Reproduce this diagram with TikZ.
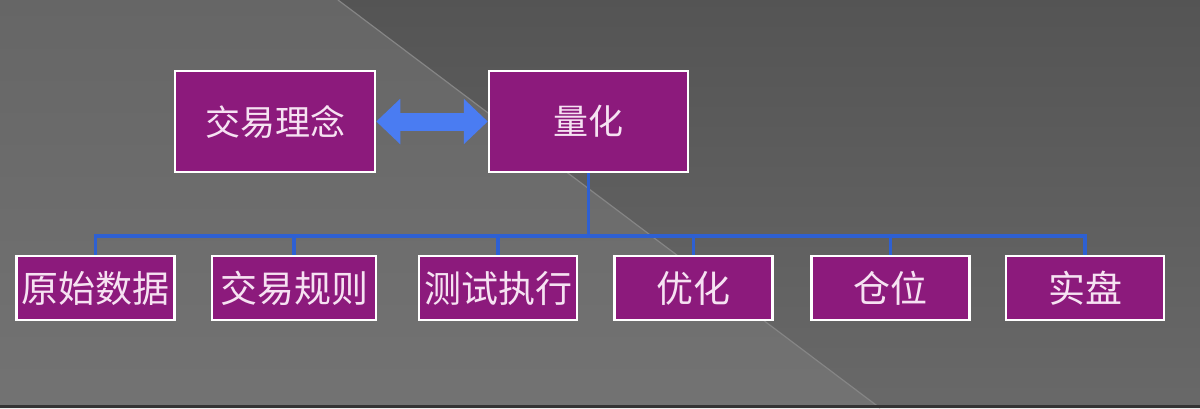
\documentclass[tikz,border=0pt]{standalone}
\usepackage{fontspec}
\usepackage{xcolor}
\usetikzlibrary{arrows.meta}
\newfontfamily\cjk{Noto Sans CJK SC}
\definecolor{boxfill}{HTML}{8C1A7C}
\definecolor{boxtext}{HTML}{F6E2F2}
\definecolor{busblue}{HTML}{2E60D2}
\definecolor{arrowblue}{HTML}{4A7CF2}

\begin{document}
\begin{tikzpicture}[x=1pt, y=-1pt,
    box/.style={draw=white, line width=2.5pt, fill=boxfill, text=boxtext,
        font=\cjk\fontsize{35}{40}\selectfont, inner sep=0pt, minimum height=101pt},
    leaf/.style={box, minimum width=158pt, minimum height=64pt,
        font=\cjk\fontsize{37}{40}\selectfont},
    bus/.style={draw=busblue, line width=3.5pt}]
\useasboundingbox (0,0) rectangle (1200,408);
% background
\shade[top color=black!60, bottom color=black!55] (0,0) -- (338,0) -- (880,408) -- (0,408) -- cycle;
\shade[top color=black!67, bottom color=black!59] (338,0) -- (1200,0) -- (1200,408) -- (880,408) -- cycle;
\draw[black!48, line width=1.2pt] (338,0) -- (880,408);
\fill[black!80] (0,405) rectangle (1200,408);

\node[box, minimum width=200pt] (idea) at (275,121.5) {交易理念};
\node[box, minimum width=199pt] (quant) at (588.5,121.5) {量化};
\draw[arrowblue, line width=18pt, {Triangle[length=24pt,width=44pt]}-{Triangle[length=24pt,width=44pt]}]
    (idea.east) -- (quant.west);

\node[leaf] (b1) at (95.5,288) {原始数据};
\node[leaf, minimum width=164pt] (b2) at (294,288) {交易规则};
\node[leaf] (b3) at (498,288) {测试执行};
\node[leaf] (b4) at (693.5,288) {优化};
\node[leaf] (b5) at (890.5,288) {仓位};
\node[leaf] (b6) at (1085,288) {实盘};

\coordinate (hub) at (quant.south |- 0,236);
\draw[bus] (quant.south) -- (hub);
\foreach \n in {b1,b2,b3,b4,b5,b6}
    \draw[bus] (hub) -| (\n.north);
\end{tikzpicture}
\end{document}
